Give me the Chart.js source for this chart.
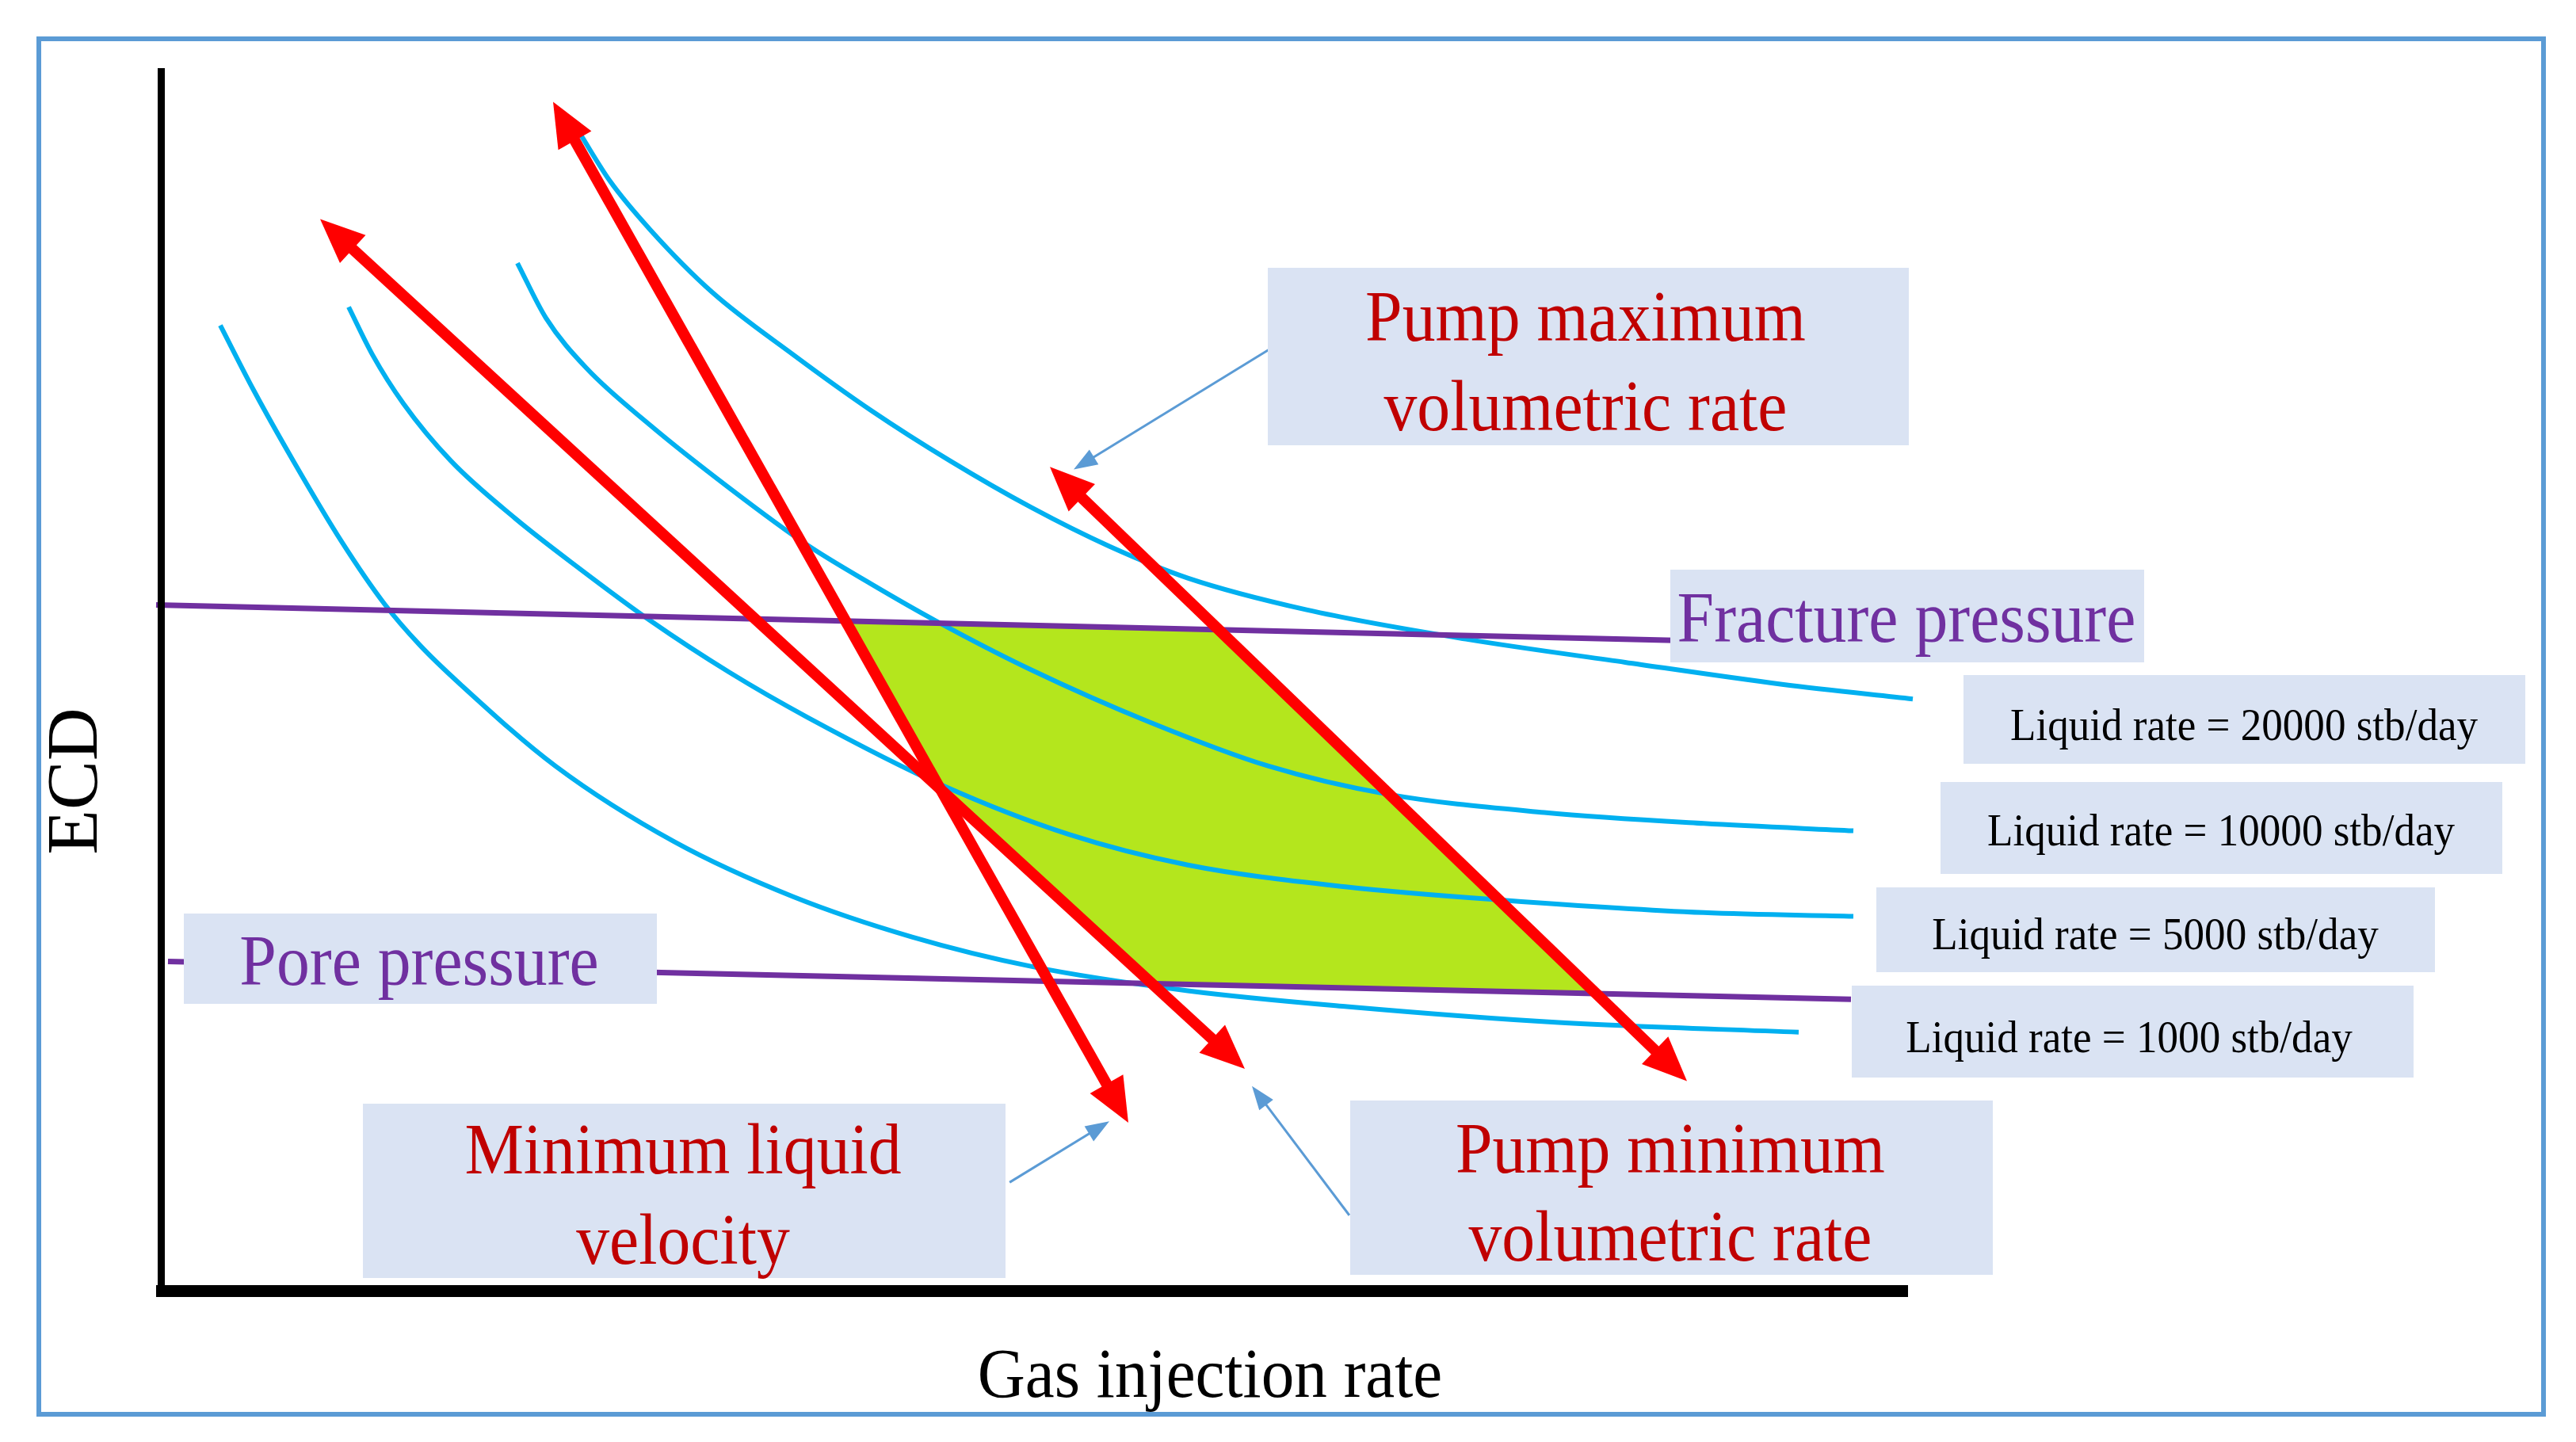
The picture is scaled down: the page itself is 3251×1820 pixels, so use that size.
<!DOCTYPE html>
<html>
<head>
<meta charset="utf-8">
<title>Operating window - ECD vs gas injection rate</title>
<script src="https://cdn.jsdelivr.net/npm/chart.js@4.4.1/dist/chart.umd.min.js"></script>
<style>
    html, body { margin: 0; padding: 0; background: #ffffff; }
    #chartBox { width: 3251px; height: 1820px; }
</style>
</head>
<body>
<div id="chartBox"><canvas id="windowChart" width="3251" height="1820"></canvas></div>
<script>
// Schematic: x = gas injection rate, y = ECD, both in arbitrary 0-100 units

// Liquid rate curves
const gas1000 = [2.5, 3.9, 5.6, 7.6, 9.4, 10.9, 12.6, 16.6, 21.6, 26.6, 31.6, 36.6, 43.2, 49.9, 58.8, 68.9];
const ecd1000 = [79.0, 73.7, 67.8, 61.3, 56.2, 52.8, 49.6, 42.9, 36.7, 32.2, 28.9, 26.5, 24.5, 23.2, 21.9, 21.1];

const gas5000 = [7.9, 8.9, 10.2, 12.2, 14.9, 17.6, 20.6, 23.9, 27.2, 32.9, 38.2, 43.2, 49.9, 56.6, 64.9, 71.2];
const ecd5000 = [80.5, 76.6, 72.6, 67.9, 63.2, 59.1, 54.8, 50.6, 46.9, 41.3, 37.3, 34.8, 33.0, 31.9, 30.9, 30.6];

const gas10000 = [15.0, 16.2, 17.9, 20.6, 23.9, 27.2, 29.9, 32.6, 36.6, 41.6, 46.6, 51.6, 58.2, 64.9, 71.2];
const ecd10000 = [84.1, 79.6, 75.5, 70.8, 65.7, 61.0, 57.8, 54.8, 50.8, 46.5, 42.9, 40.6, 39.1, 38.2, 37.6];

const gas20000 = [17.6, 18.9, 20.6, 23.2, 26.6, 29.9, 33.2, 36.6, 39.9, 43.2, 48.2, 54.9, 61.6, 68.2, 73.7];
const ecd20000 = [94.8, 90.8, 86.8, 81.7, 76.6, 72.0, 67.9, 64.1, 60.9, 58.3, 55.7, 53.3, 51.4, 49.6, 48.4];

// Pressure limits
const fractureGas = [-0.2, 63.7];
const fractureEcd = [56.1, 53.2];
const poreGas = [0.3, 71.1];
const poreEcd = [26.9, 23.8];

// Operating limits (red double arrows)
const pumpMinGas = [6.7, 45.6];
const pumpMinEcd = [87.7, 18.1];
const minVelGas = [16.5, 40.7];
const minVelEcd = [97.3, 13.7];
const pumpMaxGas = [37.4, 64.2];
const pumpMaxEcd = [67.4, 17.1];

// Operating window (green)
const windowGas = [29.1, 44.5, 60.4, 41.7, 32.7, 29.1];
const windowEcd = [54.6, 54.1, 24.3, 24.9, 41.2, 54.6];

// Callout pointers (box -> arrow)
const calloutMaxGas = [46.6, 38.4];
const calloutMaxEcd = [77.0, 67.2];
const calloutVelGas = [35.7, 39.9];
const calloutVelEcd = [8.8, 13.8];
const calloutMinGas = [50.0, 45.9];
const calloutMinEcd = [6.1, 16.7];

// Text
const liquidRateLabels = [
    'Liquid rate = 20000 stb/day',
    'Liquid rate = 10000 stb/day',
    'Liquid rate = 5000 stb/day',
    'Liquid rate = 1000 stb/day'
];
const xAxisTitle = 'Gas injection rate';
const yAxisTitle = 'ECD';
const gasAxisEnd = 73.5;

const SERIF = "'Liberation Serif', 'Times New Roman', serif";
const RED_TEXT = '#c00000';
const PURPLE = '#7030a0';
const BOX_FILL = '#dae3f3';
const CURVE_BLUE = '#00b0f0';
const ARROW_RED = '#ff0000';
const CALLOUT_BLUE = '#5b9bd5';

function pts(xs, ys) {
    return xs.map((x, i) => ({ x: x, y: ys[i] }));
}

function curve(xs, ys) {
    return {
        data: pts(xs, ys),
        borderColor: CURVE_BLUE,
        borderWidth: 6,
        cubicInterpolationMode: 'monotone',
        pointRadius: 0,
        clip: false
    };
}

function straight(xs, ys, color, width, heads) {
    return {
        data: pts(xs, ys),
        borderColor: color,
        borderWidth: width,
        borderCapStyle: 'butt',
        tension: 0,
        pointRadius: 0,
        clip: false,
        heads: heads || null
    };
}

function headSize(ds) {
    return ds.heads === 'both' ? { len: 56, half: 24 } : { len: 30, half: 11 };
}

function drawHead(ctx, from, to, color, len, half) {
    const dx = to.x - from.x, dy = to.y - from.y;
    const d = Math.hypot(dx, dy);
    const ux = dx / d, uy = dy / d;
    const bx = to.x - ux * len, by = to.y - uy * len;
    ctx.beginPath();
    ctx.moveTo(to.x, to.y);
    ctx.lineTo(bx - uy * half, by + ux * half);
    ctx.lineTo(bx + uy * half, by - ux * half);
    ctx.closePath();
    ctx.fillStyle = color;
    ctx.fill();
}

function drawLabel(ctx, text, cx, baseline, size, color, sx) {
    ctx.save();
    ctx.translate(cx, baseline);
    ctx.scale(sx, 1);
    ctx.font = size + 'px ' + SERIF;
    ctx.fillStyle = color;
    ctx.textAlign = 'center';
    ctx.textBaseline = 'alphabetic';
    ctx.fillText(text, 0, 0);
    ctx.restore();
}

const sketchPlugin = {
    id: 'sketch',
    beforeDraw(chart) {
        const ctx = chart.ctx;
        ctx.save();
        ctx.fillStyle = '#ffffff';
        ctx.fillRect(0, 0, chart.width, chart.height);
        ctx.restore();
    },
    // cut the shaft short under each arrow head so the tip stays sharp
    beforeDatasetDraw(chart, args) {
        const ds = chart.data.datasets[args.index];
        if (!ds.heads) return;
        const el = args.meta.data;
        const a = el[0], b = el[el.length - 1];
        const d = Math.hypot(b.x - a.x, b.y - a.y);
        const ux = (b.x - a.x) / d, uy = (b.y - a.y) / d;
        const cut = headSize(ds).len * 0.5;
        const s = ds.heads === 'both' ? cut : 0;
        const p0x = a.x + ux * s, p0y = a.y + uy * s;
        const p1x = b.x - ux * cut, p1y = b.y - uy * cut;
        const w = 60;
        const ctx = chart.ctx;
        ctx.save();
        ctx.beginPath();
        ctx.moveTo(p0x - uy * w, p0y + ux * w);
        ctx.lineTo(p1x - uy * w, p1y + ux * w);
        ctx.lineTo(p1x + uy * w, p1y - ux * w);
        ctx.lineTo(p0x + uy * w, p0y - ux * w);
        ctx.closePath();
        ctx.clip();
    },
    afterDatasetDraw(chart, args) {
        const ds = chart.data.datasets[args.index];
        if (ds.heads) chart.ctx.restore();
    },
    afterDatasetsDraw(chart) {
        const ctx = chart.ctx;
        const xs = chart.scales.x, ys = chart.scales.y;

        // arrow heads on red limits and callouts
        chart.data.datasets.forEach((ds, i) => {
            if (!ds.heads) return;
            const el = chart.getDatasetMeta(i).data;
            const a = el[0], b = el[el.length - 1];
            const hs = headSize(ds);
            drawHead(ctx, a, b, ds.borderColor, hs.len, hs.half);
            if (ds.heads === 'both') drawHead(ctx, b, a, ds.borderColor, hs.len, hs.half);
        });

        // axes
        const x0 = xs.getPixelForValue(0), y0 = ys.getPixelForValue(0);
        const yTop = ys.getPixelForValue(100);
        ctx.save();
        ctx.fillStyle = '#000000';
        ctx.fillRect(x0 - 4, yTop - 1, 9, y0 - yTop + 8);
        ctx.fillRect(x0 - 6, y0 - 6, xs.getPixelForValue(gasAxisEnd) - x0 + 6, 15);
        ctx.restore();

        // label boxes
        const boxes = [
            [1600, 338, 809, 224],
            [2108, 719, 598, 117],
            [2478, 852, 709, 112],
            [2449, 987, 709, 116],
            [2368, 1120, 705, 107],
            [2337, 1244, 709, 116],
            [232, 1153, 597, 114],
            [458, 1393, 811, 220],
            [1704, 1389, 811, 220]
        ];
        ctx.save();
        ctx.fillStyle = BOX_FILL;
        boxes.forEach(b => ctx.fillRect(b[0], b[1], b[2], b[3]));
        ctx.restore();

        // box texts
        drawLabel(ctx, 'Pump maximum', 2001, 430, 91, RED_TEXT, 0.92);
        drawLabel(ctx, 'volumetric rate', 2001, 543, 91, RED_TEXT, 0.92);
        drawLabel(ctx, 'Fracture pressure', 2406, 810, 91, PURPLE, 0.92);
        drawLabel(ctx, 'Pore pressure', 529, 1243, 91, PURPLE, 0.92);
        drawLabel(ctx, 'Minimum liquid', 862, 1481, 91, RED_TEXT, 0.92);
        drawLabel(ctx, 'velocity', 862, 1595, 91, RED_TEXT, 0.92);
        drawLabel(ctx, 'Pump minimum', 2108, 1480, 91, RED_TEXT, 0.92);
        drawLabel(ctx, 'volumetric rate', 2108, 1591, 91, RED_TEXT, 0.92);

        const lrCx = [2832, 2803, 2720, 2687];
        const lrBase = [934, 1067, 1198, 1328];
        liquidRateLabels.forEach((t, i) => drawLabel(ctx, t, lrCx[i], lrBase[i], 58, '#000000', 0.915));

        // axis titles
        drawLabel(ctx, xAxisTitle, 1527, 1763, 88, '#000000', 0.945);
        ctx.save();
        ctx.translate(122, 986);
        ctx.rotate(-Math.PI / 2);
        drawLabel(ctx, yAxisTitle, 0, 0, 90, '#000000', 1.03);
        ctx.restore();

        // frame
        ctx.save();
        ctx.strokeStyle = CALLOUT_BLUE;
        ctx.lineWidth = 6;
        ctx.strokeRect(49, 49, 3161, 1736);
        ctx.restore();
    }
};

new Chart(document.getElementById('windowChart'), {
    type: 'line',
    data: {
        datasets: [
            straight(pumpMinGas, pumpMinEcd, ARROW_RED, 14, 'both'),
            straight(minVelGas, minVelEcd, ARROW_RED, 14, 'both'),
            straight(pumpMaxGas, pumpMaxEcd, ARROW_RED, 14, 'both'),
            straight(calloutMaxGas, calloutMaxEcd, CALLOUT_BLUE, 3, 'end'),
            straight(calloutVelGas, calloutVelEcd, CALLOUT_BLUE, 3, 'end'),
            straight(calloutMinGas, calloutMinEcd, CALLOUT_BLUE, 3, 'end'),
            straight(fractureGas, fractureEcd, PURPLE, 7),
            straight(poreGas, poreEcd, PURPLE, 7),
            curve(gas20000, ecd20000),
            curve(gas10000, ecd10000),
            curve(gas5000, ecd5000),
            curve(gas1000, ecd1000),
            {
                data: pts(windowGas, windowEcd),
                borderWidth: 0,
                borderColor: 'rgba(0,0,0,0)',
                backgroundColor: '#b4e61d',
                fill: 'shape',
                tension: 0,
                pointRadius: 0,
                clip: false
            }
        ]
    },
    options: {
        responsive: false,
        animation: false,
        devicePixelRatio: 1,
        events: [],
        layout: { padding: { left: 203, right: 48, top: 87, bottom: 192 } },
        plugins: {
            legend: { display: false },
            tooltip: { enabled: false },
            title: { display: false }
        },
        scales: {
            x: { type: 'linear', min: 0, max: 100, display: false },
            y: { type: 'linear', min: 0, max: 100, display: false }
        }
    },
    plugins: [sketchPlugin]
});
</script>
</body>
</html>
